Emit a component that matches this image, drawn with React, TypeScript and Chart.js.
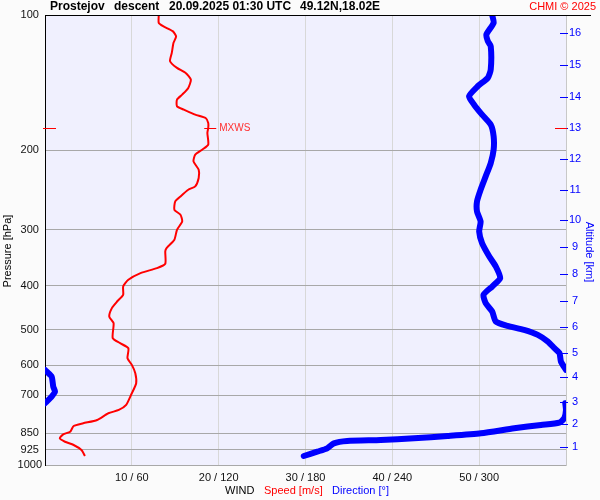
import React, { useEffect, useRef } from 'react';
import { Chart, registerables } from 'chart.js';
Chart.register(...registerables);

// Axis ticks
const pressureTicks = [100, 200, 300, 400, 500, 600, 700, 850, 925, 1000];
const speedTicks = [10, 20, 30, 40, 50];
const directionTicks = [60, 120, 180, 240, 300];
const altitudeKm = [1, 2, 3, 4, 5, 6, 7, 8, 9, 10, 11, 12, 13, 14, 15, 16];
const altitudePressure = [913, 811, 723, 638, 563, 494, 432, 376, 328, 285, 245, 209, 178, 152, 129, 109.5];

// Max wind
const mxwsSpeed = 18.8;
const mxwsPressure = 178;

// Wind speed [m/s] profile
const speedPressure = [100, 104.1, 105.9, 108.6, 111.5, 115.3, 121.4, 126.7, 131.1, 134.5, 139.2, 145.2, 150.3, 154.2, 159.6, 162.3, 166.5, 169.4, 173.8, 178.2, 182.8, 194.1, 199.2, 204.4, 211.5, 220.7, 230.3, 240.4, 244.5, 253, 259.6, 270.9, 277.9, 287.6, 300.1, 315.8, 329.5, 335.3, 357.1, 365.1, 374.6, 387.6, 401.2, 418.6, 433.2, 448.1, 467.8, 483.9, 522.6, 536.2, 550.1, 579, 599.2, 625.2, 658.1, 692.7, 735.5, 754.5, 767.4, 794.2, 807.8, 819.1, 843.4, 854.7, 872.4, 887.8, 902.8, 926.2, 955];
const speedValues = [13.1, 13.1, 13.6, 14.7, 15.1, 14.8, 14.6, 14.4, 15.2, 16.2, 16.8, 16.5, 15.8, 15.2, 15.2, 16.0, 17.3, 18.5, 18.8, 18.8, 18.7, 18.8, 18.1, 17.3, 17.1, 17.7, 17.7, 17.3, 16.5, 15.6, 15.0, 14.9, 15.6, 15.8, 15.2, 14.9, 14.0, 13.85, 13.85, 12.9, 11.0, 9.6, 9.0, 9.0, 8.3, 7.7, 7.4, 7.9, 7.8, 8.65, 9.6, 9.5, 10.0, 10.4, 10.5, 10.0, 9.35, 8.5, 7.3, 6.0, 4.4, 3.3, 2.9, 2.1, 1.7, 2.3, 3.3, 4.2, 4.6];

// Wind direction [deg] profile, split where it wraps 360/0
const dirUpperPressure = [100, 104.1, 110.5, 114.4, 117.3, 132.2, 137.9, 144, 151.6, 158.2, 166.5, 175.3, 186.1, 199.2, 213.3, 228.4, 244.5, 259.6, 273.3, 287.6, 302.7, 321.3, 344.1, 362.2, 384.3, 401.2, 418.6, 436.9, 456, 479.9, 490.6, 500.8, 513.7, 531.7, 550.1, 564.3, 589.1, 614.8];
const dirUpperValues = [309, 310, 305, 306, 308, 308, 306, 299, 293, 296.5, 302, 308, 310, 310, 308, 304.5, 301, 298.5, 298.5, 301, 300, 302, 307, 311.5, 314.5, 309, 303, 304.5, 309, 311.5, 319.5, 331, 340.5, 347.5, 352, 355.5, 356.5, 360];
const dirMidPressure = [614.8, 620.1, 636.2, 669.6, 687, 704.7, 723.2, 728.9];
const dirMidValues = [0, 1.2, 4.6, 5.7, 6.9, 4.6, 1.2, 0];
const dirLowPressure = [728.9, 754.5, 787.2, 805.1, 814.7, 828.7, 850.2, 862.2, 872.4, 880.1, 884.6, 895.1, 918.3, 934.1, 955];
const dirLowValues = [359.5, 360, 358.8, 355.4, 342.7, 324.2, 301.2, 278.1, 255, 231.9, 208.8, 199.6, 195, 188.1, 178.8];

const FONT = "'Liberation Sans', Arial, Helvetica, sans-serif";

const toPoints = (xs: number[], ps: number[]) => xs.map((v, i) => ({ x: v, y: ps[i] }));

const decorPlugin = {
  id: 'decor',
  beforeDraw(chart: any) {
    const { ctx, chartArea: a, width, height } = chart;
    ctx.save();
    ctx.fillStyle = '#fbfbfb';
    ctx.fillRect(0, 0, width, height);
    ctx.fillStyle = '#f0f0fe';
    ctx.fillRect(a.left, a.top, a.right - a.left, a.bottom - a.top);
    ctx.restore();
  },
  afterDraw(chart: any) {
    const { ctx, chartArea: a } = chart;
    const ys = chart.scales.y;
    const y2 = chart.scales.y2;
    const xs = chart.scales.x;
    ctx.save();
    // top line
    ctx.strokeStyle = '#000';
    ctx.lineWidth = 1;
    ctx.beginPath();
    const ty = Math.round(a.top) + 0.5;
    ctx.moveTo(a.left, ty);
    ctx.lineTo(591, ty);
    ctx.stroke();

    // altitude tick marks
    ctx.strokeStyle = '#0000ff';
    for (const t of y2.ticks) {
      const py = Math.round(y2.getPixelForValue(t.value)) + 0.5;
      ctx.beginPath();
      ctx.moveTo(a.right - 6, py);
      ctx.lineTo(a.right + 2, py);
      ctx.stroke();
    }

    // MXWS marks
    const my = Math.round(ys.getPixelForValue(mxwsPressure)) + 0.5;
    const mx = xs.getPixelForValue(mxwsSpeed);
    ctx.strokeStyle = '#ff0000';
    ctx.beginPath();
    ctx.moveTo(a.left - 2, my); ctx.lineTo(a.left + 11, my);
    ctx.moveTo(a.right - 11, my); ctx.lineTo(a.right + 1, my);
    ctx.moveTo(mx - 4, my); ctx.lineTo(mx + 8, my);
    ctx.stroke();
    ctx.fillStyle = '#ff3030';
    ctx.font = `10px ${FONT}`;
    ctx.textBaseline = 'middle';
    ctx.textAlign = 'left';
    ctx.fillText('MXWS', mx + 11, my);

    // title
    ctx.fillStyle = '#000';
    ctx.font = `bold 12px ${FONT}`;
    ctx.fillText('Prostejov', 50, 7);
    ctx.fillText('descent', 114, 7);
    ctx.fillText('20.09.2025 01:30 UTC', 169, 7);
    ctx.fillText('49.12N,18.02E', 300, 7);
    ctx.fillStyle = '#ff0000';
    ctx.font = `11px ${FONT}`;
    ctx.textAlign = 'right';
    ctx.fillText('CHMI \u00a9 2025', 596, 7);

    // bottom legend
    ctx.textAlign = 'left';
    ctx.fillStyle = '#000';
    ctx.fillText('WIND', 225, 491);
    ctx.fillStyle = '#ff0000';
    ctx.fillText('Speed [m/s]', 264, 491);
    ctx.fillStyle = '#0000ff';
    ctx.fillText('Direction [\u00b0]', 332, 491);

    // axis titles
    ctx.save();
    ctx.translate(8, 251);
    ctx.rotate(-Math.PI / 2);
    ctx.textAlign = 'center';
    ctx.fillStyle = '#000';
    ctx.fillText('Pressure [hPa]', 0, 0);
    ctx.restore();
    ctx.save();
    ctx.translate(589, 252);
    ctx.rotate(Math.PI / 2);
    ctx.textAlign = 'center';
    ctx.fillStyle = '#0000ff';
    ctx.fillText('Altitude [km]', 0, 0);
    ctx.restore();

    ctx.restore();
  },
};

export default function App() {
  const ref = useRef<HTMLCanvasElement>(null);
  useEffect(() => {
    if (!ref.current) return;
    const dirStyle = {
      borderColor: '#0000ff',
      borderWidth: 6,
      borderCapStyle: 'round',
      borderJoinStyle: 'round',
      pointRadius: 0,
      showLine: true,
      tension: 0.2,
      xAxisID: 'x2',
      yAxisID: 'y',
    };
    const chart = new Chart(ref.current, {
      type: 'scatter',
      data: {
        datasets: [
          {
            label: 'Speed',
            data: toPoints(speedValues, speedPressure),
            borderColor: '#ff0000',
            borderWidth: 2,
            pointRadius: 0,
            showLine: true,
            tension: 0.2,
            xAxisID: 'x',
            yAxisID: 'y',
          } as any,
          { label: 'Dir1', data: toPoints(dirUpperValues, dirUpperPressure), ...dirStyle } as any,
          { label: 'Dir2', data: toPoints(dirMidValues, dirMidPressure), ...dirStyle } as any,
          { label: 'Dir3', data: toPoints(dirLowValues, dirLowPressure), ...dirStyle } as any,
        ],
      },
      options: {
        responsive: false,
        devicePixelRatio: 1,
        animation: false,
        events: [],
        layout: { padding: { top: 15, left: 0, right: 0, bottom: 0 } },
        plugins: { legend: { display: false }, tooltip: { enabled: false }, title: { display: false } },
        scales: {
          x: {
            type: 'linear',
            position: 'bottom',
            min: 0,
            max: 60,
            afterBuildTicks: (s: any) => { s.ticks = speedTicks.map((v) => ({ value: v })); },
            afterFit: (s: any) => { s.height = 35; },
            grid: { color: '#d8d8d8', drawTicks: false },
            border: { color: '#a8a8a8', width: 1 },
            ticks: {
              autoSkip: false,
              maxRotation: 0,
              padding: 6,
              color: '#111',
              font: { family: FONT, size: 11 },
              callback: (v: any) => {
                const i = speedTicks.indexOf(Number(v));
                return i >= 0 ? `${speedTicks[i]} / ${directionTicks[i]}` : '';
              },
            },
          },
          x2: { type: 'linear', min: 0, max: 360, display: false },
          y: {
            type: 'logarithmic',
            position: 'left',
            reverse: true,
            min: 100,
            max: 1000,
            afterBuildTicks: (s: any) => { s.ticks = pressureTicks.map((v) => ({ value: v })); },
            afterFit: (s: any) => { s.width = 45; },
            grid: { color: '#a8a8a8', drawTicks: false },
            border: { color: '#000', width: 1 },
            ticks: {
              autoSkip: false,
              padding: 3,
              crossAlign: 'center',
              color: '#111',
              font: { family: FONT, size: 11 },
              callback: (v: any) => String(v),
            },
          },
          y2: {
            type: 'logarithmic',
            position: 'right',
            reverse: true,
            min: 100,
            max: 1000,
            afterBuildTicks: (s: any) => { s.ticks = altitudePressure.map((v) => ({ value: v })); },
            afterFit: (s: any) => { s.width = 34; },
            grid: { display: true, drawOnChartArea: false, drawTicks: false },
            border: { color: '#c8c8c8', width: 1 },
            ticks: {
              autoSkip: false,
              padding: 3,
              crossAlign: 'center',
              color: '#0000ff',
              font: { family: FONT, size: 11 },
              callback: (v: any) => {
                const i = altitudePressure.indexOf(Number(v));
                return i >= 0 ? String(altitudeKm[i]) : '';
              },
            },
          },
        },
      } as any,
      plugins: [decorPlugin],
    });
    return () => chart.destroy();
  }, []);
  return (
    <div style={{ position: 'absolute', left: 0, top: 0, width: 600, height: 500 }}>
      <canvas ref={ref} width={600} height={500} style={{ display: 'block' }} />
    </div>
  );
}
